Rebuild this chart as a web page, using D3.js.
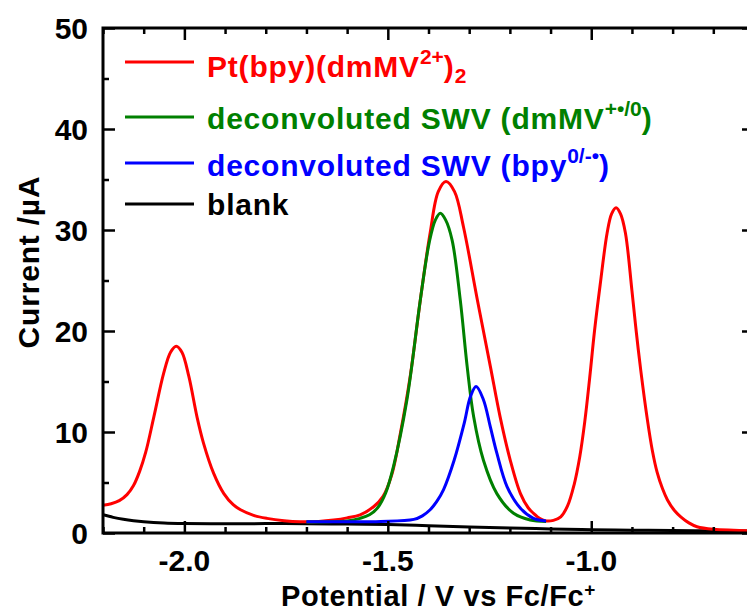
<!DOCTYPE html>
<html>
<head>
<meta charset="utf-8">
<script src="https://cdn.jsdelivr.net/npm/d3@7"></script>
<style>
  html, body { margin: 0; padding: 0; background: #fff; overflow: hidden; }
  svg { display: block; }
  text { font-family: "Liberation Sans", Arial, sans-serif; font-weight: bold; }
</style>
</head>
<body>
<svg id="chart" width="747" height="613"></svg>
<script>
// ---------- data ----------
// potential (V vs Fc/Fc+), current (µA)
const redSeries = [
  [-2.200, 2.75], [-2.180, 2.9], [-2.160, 3.2], [-2.141, 3.8], [-2.125, 4.7],
  [-2.110, 6.1], [-2.095, 8.0], [-2.075, 11.5], [-2.051, 15.8], [-2.034, 17.9],
  [-2.020, 18.5], [-2.006, 17.9], [-1.989, 15.5], [-1.969, 11.5], [-1.953, 8.9],
  [-1.928, 5.9], [-1.903, 3.9], [-1.880, 2.8], [-1.862, 2.3], [-1.830, 1.75],
  [-1.797, 1.45], [-1.755, 1.22], [-1.715, 1.12], [-1.670, 1.15], [-1.633, 1.29],
  [-1.600, 1.5], [-1.568, 1.8], [-1.535, 2.6], [-1.512, 3.6], [-1.490, 5.8],
  [-1.469, 9.9], [-1.445, 15.5], [-1.420, 23.1], [-1.396, 29.7], [-1.376, 33.8],
  [-1.357, 34.8], [-1.336, 33.8], [-1.314, 30.3], [-1.280, 23.1], [-1.248, 16.5],
  [-1.224, 11.5], [-1.199, 7.2], [-1.174, 3.9], [-1.155, 2.5], [-1.142, 1.95],
  [-1.125, 1.4], [-1.111, 1.19], [-1.093, 1.25], [-1.075, 1.6], [-1.058, 2.7],
  [-1.042, 4.8], [-1.028, 7.6], [-1.016, 11.0], [-1.004, 15.3], [-0.992, 20.0],
  [-0.978, 24.6], [-0.961, 29.7], [-0.950, 31.6], [-0.939, 32.2], [-0.928, 31.6],
  [-0.916, 29.7], [-0.900, 24.0], [-0.889, 19.8], [-0.878, 16.0], [-0.862, 11.2],
  [-0.850, 8.2], [-0.838, 6.0], [-0.825, 4.4], [-0.813, 3.3], [-0.795, 2.2],
  [-0.780, 1.6], [-0.760, 1.0], [-0.740, 0.62], [-0.700, 0.36], [-0.650, 0.27],
  [-0.600, 0.22]
];
const greenSeries = [
  [-1.700, 1.1], [-1.600, 1.2], [-1.568, 1.45], [-1.545, 1.8], [-1.525, 2.5],
  [-1.505, 4.0], [-1.486, 6.6], [-1.453, 13.2], [-1.420, 23.1], [-1.398, 28.8],
  [-1.383, 31.0], [-1.371, 31.65], [-1.358, 31.0], [-1.342, 29.0], [-1.322, 23.1],
  [-1.305, 16.5], [-1.289, 11.5], [-1.265, 7.2], [-1.232, 3.9], [-1.191, 1.95],
  [-1.150, 1.29], [-1.111, 1.15]
];
const blueSeries = [
  [-1.700, 1.12], [-1.600, 1.12], [-1.518, 1.15], [-1.436, 1.35], [-1.415, 1.7],
  [-1.396, 2.3], [-1.380, 3.1], [-1.363, 4.3], [-1.337, 7.2], [-1.312, 10.9],
  [-1.297, 13.5], [-1.283, 14.5], [-1.265, 13.2], [-1.248, 10.5], [-1.232, 7.9],
  [-1.207, 4.6], [-1.174, 2.45], [-1.142, 1.45], [-1.111, 1.19]
];
const blankSeries = [
  [-2.200, 1.8], [-2.175, 1.55], [-2.150, 1.36], [-2.125, 1.22], [-2.100, 1.12],
  [-2.050, 1.0], [-2.000, 0.95], [-1.900, 0.92], [-1.800, 0.93], [-1.700, 0.92],
  [-1.600, 0.88], [-1.500, 0.83], [-1.400, 0.72], [-1.300, 0.6], [-1.200, 0.5],
  [-1.100, 0.4], [-1.000, 0.33], [-0.900, 0.28], [-0.800, 0.25], [-0.700, 0.22],
  [-0.600, 0.2]
];
const xMajorTicks = [-2.0, -1.5, -1.0];
const xMinorTicks = [-2.2, -2.1, -1.9, -1.8, -1.7, -1.6, -1.4, -1.3, -1.2, -1.1, -0.9, -0.8, -0.7];
const yMajorTicks = [0, 10, 20, 30, 40, 50];
const yMinorTicks = [5, 15, 25, 35, 45];
const seriesNames = ["Pt(bpy)(dmMV", "deconvoluted SWV (dmMV", "deconvoluted SWV (bpy", "blank"];
const seriesColors = ["#ff0000", "#008000", "#0000ff", "#000000"];

// ---------- chart ----------
const svg = d3.select("#chart");
const x = d3.scaleLinear().domain([-2.2, -0.6]).range([103, 754]);
const y = d3.scaleLinear().domain([0, 50]).range([533, 28]);
const [x0, x1] = x.range();
const [yb, yt] = y.range();

svg.append("clipPath").attr("id", "clip")
  .append("rect").attr("x", x0).attr("y", yt).attr("width", x1 - x0).attr("height", yb - yt);

const line = d3.line().x(d => x(d[0])).y(d => y(d[1])).curve(d3.curveCatmullRom.alpha(0.5));
const plot = svg.append("g").attr("clip-path", "url(#clip)");
const drawOrder = [[blankSeries, 3], [redSeries, 0], [greenSeries, 1], [blueSeries, 2]];
drawOrder.forEach(([data, i]) => {
  plot.append("path").datum(data)
    .attr("d", line)
    .attr("fill", "none")
    .attr("stroke", seriesColors[i])
    .attr("stroke-width", 3)
    .attr("stroke-linejoin", "round");
});

// ticks (inward)
function tickAxis(axis, transform) {
  const g = svg.append("g").attr("transform", transform).call(axis);
  g.select(".domain").remove();
  g.selectAll("text").remove();
  g.selectAll("line").attr("stroke", "#000").attr("stroke-width", 2.5);
  return g;
}
tickAxis(d3.axisBottom(x).tickValues(xMajorTicks).tickSize(-12), `translate(0,${yb})`);
tickAxis(d3.axisBottom(x).tickValues(xMinorTicks).tickSize(-6), `translate(0,${yb})`);
tickAxis(d3.axisTop(x).tickValues(xMajorTicks).tickSize(-12), `translate(0,${yt})`);
tickAxis(d3.axisTop(x).tickValues(xMinorTicks).tickSize(-6), `translate(0,${yt})`);
tickAxis(d3.axisLeft(y).tickValues(yMajorTicks).tickSize(-12), `translate(${x0},0)`);
tickAxis(d3.axisLeft(y).tickValues(yMinorTicks).tickSize(-6), `translate(${x0},0)`);
tickAxis(d3.axisRight(y).tickValues(yMajorTicks).tickSize(-12), `translate(${x1},0)`);
tickAxis(d3.axisRight(y).tickValues(yMinorTicks).tickSize(-6), `translate(${x1},0)`);

// frame
svg.append("rect").attr("x", x0).attr("y", yt).attr("width", x1 - x0).attr("height", yb - yt)
  .attr("fill", "none").attr("stroke", "#000").attr("stroke-width", 3);

// tick labels
svg.append("g").selectAll("text").data(xMajorTicks).join("text")
  .attr("x", d => x(d)).attr("y", 571)
  .attr("text-anchor", "middle").attr("font-size", 30)
  .text(d => d.toFixed(1));
svg.append("g").selectAll("text").data(yMajorTicks).join("text")
  .attr("x", 88).attr("y", d => y(d) + 11)
  .attr("text-anchor", "end").attr("font-size", 30)
  .text(d => d);

// axis titles
const xt = svg.append("text").attr("x", 281).attr("y", 606)
  .attr("font-size", 29).attr("letter-spacing", 0.6);
xt.append("tspan").text("Potential / V vs Fc/Fc");
xt.append("tspan").attr("dy", -10).attr("font-size", 19).text("+");

svg.append("text")
  .attr("transform", "translate(39,262) rotate(-90)")
  .attr("text-anchor", "middle").attr("font-size", 30).attr("letter-spacing", 0.8)
  .text("Current /\u00b5A");

// legend
const legendLineY = [62, 117, 163, 204];
const legendTextY = [77, 129, 176, 215];
const supTexts = ["2+", "+\u2022/0", "0/-\u2022", null];
seriesNames.forEach((name, i) => {
  svg.append("line")
    .attr("x1", 125).attr("x2", 194)
    .attr("y1", legendLineY[i]).attr("y2", legendLineY[i])
    .attr("stroke", seriesColors[i]).attr("stroke-width", 3);
  const t = svg.append("text").attr("x", 207).attr("y", legendTextY[i])
    .attr("font-size", 30).attr("letter-spacing", 0.8).attr("fill", seriesColors[i]);
  t.append("tspan").text(name);
  if (supTexts[i]) {
    t.append("tspan").attr("dy", -13).attr("font-size", 21).attr("letter-spacing", 0).text(supTexts[i]);
    if (i === 0) {
      t.append("tspan").attr("dy", 13).text(")");
      t.append("tspan").attr("dy", 6).attr("font-size", 21).text("2");
    } else {
      t.append("tspan").attr("dy", 13).text(")");
    }
  }
});
</script>
</body>
</html>
